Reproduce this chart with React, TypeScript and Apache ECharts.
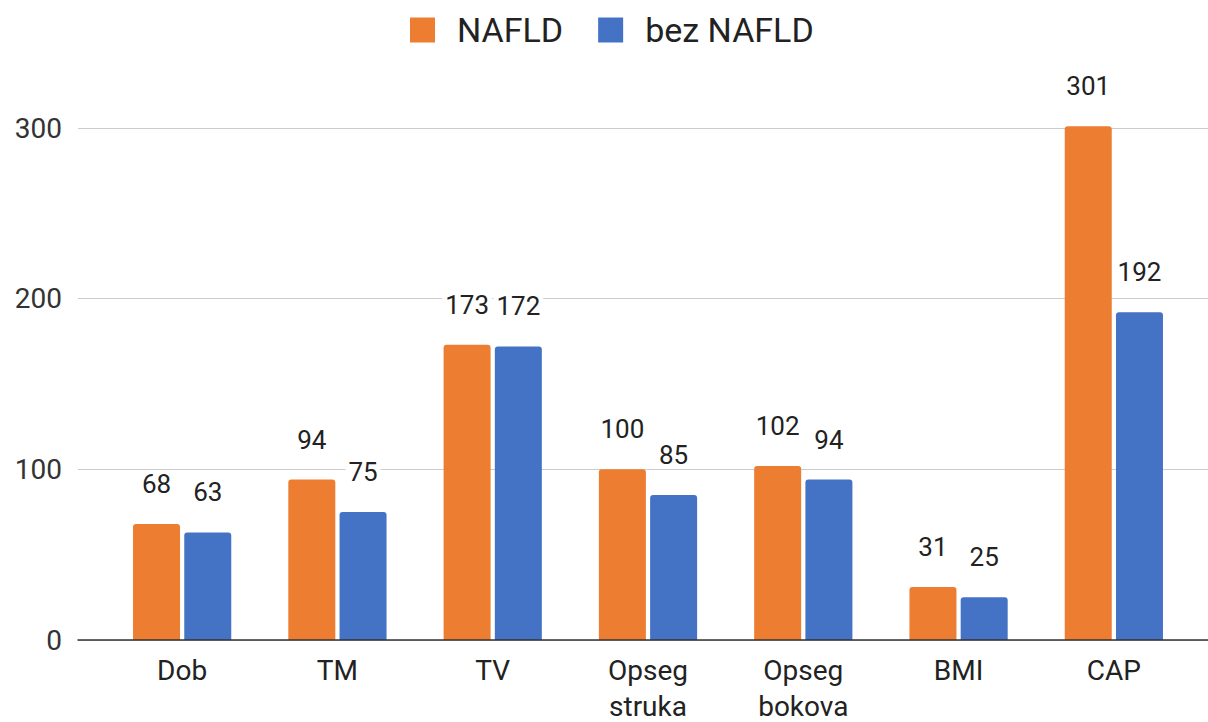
import React, { useEffect, useRef } from "react";
import * as echarts from "echarts";

const categories = ["Dob", "TM", "TV", "Opseg\nstruka", "Opseg\nbokova", "BMI", "CAP"];
const nafld = [68, 94, 173, 100, 102, 31, 301];
const bezNafld = [63, 75, 172, 85, 94, 25, 192];
const seriesNames = ["NAFLD", "bez NAFLD"];
const yMin = 0;
const yMax = 300;
const yInterval = 100;

const FONT = "Roboto, 'Noto Sans', sans-serif";

export default function App() {
  const ref = useRef<HTMLDivElement>(null);
  useEffect(() => {
    if (!ref.current) return;
    const chart = echarts.init(ref.current, undefined, { renderer: "svg" });
    const label = {
      show: true,
      position: "top" as const,
      distance: 27,
      fontSize: 26,
      fontFamily: FONT,
      color: "#222",
      backgroundColor: "#fff",
      padding: [0, 3],
    };
    chart.setOption({
      animation: false,
      backgroundColor: "#fff",
      textStyle: { fontFamily: FONT },
      legend: {
        top: 7,
        left: 405,
        itemWidth: 25,
        itemHeight: 25,
        itemGap: 35,
        icon: "rect",
        data: seriesNames,
        textStyle: { fontSize: 34, lineHeight: 36, color: "#222", fontFamily: FONT, padding: [0, 0, 0, 17] },
      },
      grid: [
        { left: 78, right: 0, top: 128, bottom: 82, outerBoundsMode: "none", containLabel: false },
        { left: 104.5, right: 16.5, top: 128, bottom: 82, outerBoundsMode: "none", containLabel: false },
      ],
      xAxis: [
        {
          gridIndex: 0,
          type: "category",
          data: [""],
          axisLine: { show: true, lineStyle: { color: "#333", width: 1.5 } },
          axisTick: { show: false },
          axisLabel: { show: false },
          z: 5,
        },
        {
          gridIndex: 1,
          type: "category",
          data: categories,
          axisLine: { show: false },
          axisTick: { show: false },
          axisLabel: {
            fontSize: 28,
            color: "#222",
            fontFamily: FONT,
            margin: 12,
            lineHeight: 36,
            interval: 0,
          },
        },
      ],
      yAxis: [
        {
          gridIndex: 0,
          type: "value",
          min: yMin,
          max: yMax,
          interval: yInterval,
          axisLine: { show: false },
          axisTick: { show: false },
          axisLabel: { fontSize: 28, color: "#333", fontFamily: FONT, margin: 16 },
          splitLine: { lineStyle: { color: "#cccccc", width: 1 } },
        },
        {
          gridIndex: 1,
          type: "value",
          min: yMin,
          max: yMax,
          interval: yInterval,
          show: false,
          splitLine: { show: false },
        },
      ],
      series: [
        {
          name: seriesNames[0],
          type: "bar",
          xAxisIndex: 1,
          yAxisIndex: 1,
          data: nafld,
          barWidth: 47,
          barGap: "9%",
          clip: false,
          itemStyle: { color: "#ED7D31", borderRadius: [3, 3, 0, 0] },
          label,
        },
        {
          name: seriesNames[1],
          type: "bar",
          xAxisIndex: 1,
          yAxisIndex: 1,
          data: bezNafld,
          barWidth: 47,
          barGap: "9%",
          clip: false,
          itemStyle: { color: "#4472C4", borderRadius: [3, 3, 0, 0] },
          label,
        },
      ],
    });
    return () => chart.dispose();
  }, []);
  return <div ref={ref} style={{ width: 1208, height: 722, position: "absolute", left: 0, top: 0 }} />;
}
